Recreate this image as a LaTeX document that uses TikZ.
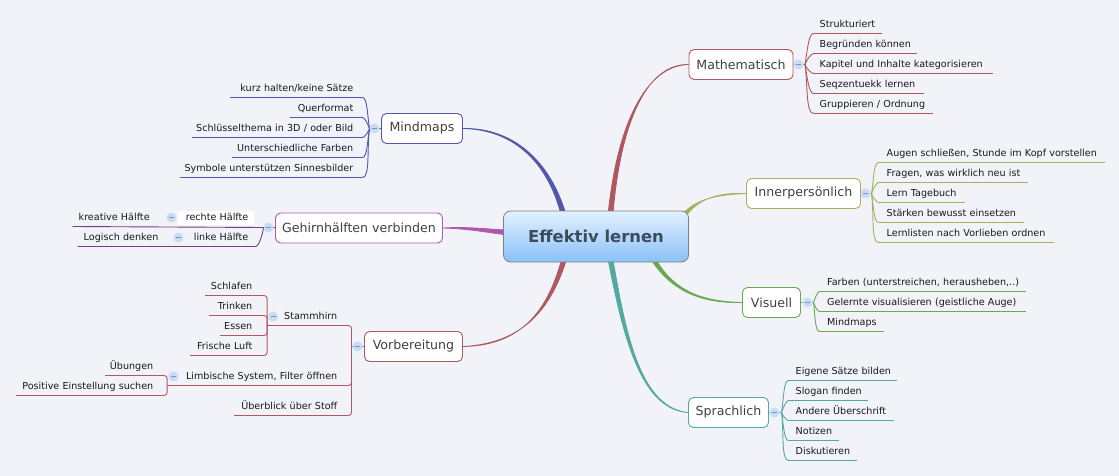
\documentclass[tikz,border=0pt]{standalone}
\usepackage{fontspec}
\setmainfont{DejaVu Sans}
\usetikzlibrary{backgrounds,positioning}
\definecolor{mapbg}{RGB}{242,243,248}
\definecolor{mapblue}{RGB}{82,88,170}
\definecolor{mapred}{RGB}{176,88,96}
\definecolor{mapolive}{RGB}{168,176,96}
\definecolor{mappurple}{RGB}{176,88,176}
\definecolor{mapgreen}{RGB}{104,170,84}
\definecolor{mapteal}{RGB}{84,170,160}
\definecolor{maptext}{RGB}{24,24,28}
\definecolor{foldblue}{RGB}{201,220,243}
\definecolor{foldminus}{RGB}{110,150,200}
\definecolor{centretop}{RGB}{226,241,255}
\definecolor{centrebottom}{RGB}{138,193,248}
\definecolor{centretext}{RGB}{62,76,90}
\tikzstyle{topicnode} = [rectangle, rounded corners=5pt, fill=white, line width=0.9pt, minimum height=30pt, inner sep=0pt, text=black!75, font=\fontsize{12.6}{15}\selectfont]
\tikzstyle{fold} = [circle, fill=foldblue, minimum size=10pt, inner sep=0pt, path picture={\draw[foldminus, line width=0.7pt] ([xshift=-2.5pt]path picture bounding box.center) -- ([xshift=2.5pt]path picture bounding box.center);}]
\tikzstyle{leafbase} = [inner xsep=0pt, inner ysep=3pt, text height=8pt, text depth=2.5pt, text=maptext, font=\fontsize{9.6}{12}\selectfont]
\tikzset{
  rleaf/.style={leafbase, anchor=south west, align=left, execute at begin node={\hspace*{#1}}},
  lleaf/.style={leafbase, anchor=south east, align=right, execute at end node={\hspace*{#1}}},
  twig/.style={line width=0.9pt, draw=#1}
}
% tapered main branch: colour, start, control, control, end
\newcommand{\limb}[5]{\filldraw[#1, line width=0.8pt] (#2) .. controls ([yshift=-1pt]#3) and ([xshift=-1.6pt]#4) .. ([xshift=-2.4pt]#5) -- ([xshift=2.4pt]#5) .. controls ([xshift=1.6pt]#4) and ([yshift=1pt]#3) .. (#2) -- cycle;}
% the same for a branch that ends nearly flat
\newcommand{\limbflat}[5]{\filldraw[#1, line width=0.8pt] (#2) .. controls ([yshift=-1pt]#3) and ([yshift=-1.6pt]#4) .. ([yshift=-2.4pt]#5) -- ([yshift=2.4pt]#5) .. controls ([yshift=1.6pt]#4) and ([yshift=1pt]#3) .. (#2) -- cycle;}
\begin{document}
\begin{tikzpicture}[x=1pt, y=-1pt, every to/.append style={in looseness=0.4}]
% Centre
\node[rectangle, rounded corners=7pt, draw=black!50, line width=0.8pt, top color=centretop, bottom color=centrebottom, minimum width=185pt, minimum height=51pt, inner sep=0pt, text=centretext, font=\fontsize{16.4}{20}\selectfont\bfseries] (central) at (595.5,236) {Effektiv lernen};

% Main topics
\node[topicnode, draw=mapblue, minimum width=81pt] (mindmaps) at (421.5,128) {Mindmaps};
\node[topicnode, draw=mappurple, minimum width=167pt] (gehirn) at (358.5,227.5) {Gehirnhälften verbinden};
\node[topicnode, draw=mapred, minimum width=98pt] (vorber) at (413,346) {Vorbereitung};
\node[topicnode, draw=mapred, minimum width=104pt] (mathe) at (740.5,64) {Mathematisch};
\node[topicnode, draw=mapolive, minimum width=114pt] (inner) at (803,193) {Innerpersönlich};
\node[topicnode, draw=mapgreen, minimum width=58pt] (visuell) at (771,302) {Visuell};
\node[topicnode, draw=mapteal, minimum width=80pt] (sprach) at (728,412) {Sprachlich};

% Hubs
\coordinate (mindhub) at (369,128);
\coordinate (gehhub) at (263,227);
\coordinate (vorhub) at (351,346);
\coordinate (mathub) at (804.5,64);
\coordinate (innhub) at (871,193);
\coordinate (vishub) at (813,302);
\coordinate (sprhub) at (781,412);

% Entry points on the centre
\coordinate (inmind) at (563,214);
\coordinate (ingeh) at (506,232);
\coordinate (invor) at (563.5,259);
\coordinate (inmat) at (610,214);
\coordinate (ininn) at (685,213);
\coordinate (invis) at (653,259);
\coordinate (inspr) at (610,259);

% Fold marks
\node[fold] (fmind) at (374,128) {};
\node[fold] (fgeh) at (268,227) {};
\node[fold] (fvor) at (357,346) {};
\node[fold] (fmat) at (798,64) {};
\node[fold] (finn) at (865,193) {};
\node[fold] (fvis) at (807,302) {};
\node[fold] (fspr) at (774,412) {};
\node[fold] (fstamm) at (272.5,316) {};
\node[fold] (flimb) at (173,376) {};

% Mindmaps
\node[lleaf=9pt, text width=132pt] (k1) at (362,97) {kurz halten/keine Sätze};
\node[lleaf=9pt, text width=72pt] (k2) at (362,117) {Querformat};
\node[lleaf=9pt, text width=170pt] (k3) at (362,137) {Schlüsselthema in 3D / oder Bild};
\node[lleaf=9pt, text width=130pt] (k4) at (362,157) {Unterschiedliche Farben};
\node[lleaf=9pt, text width=182pt] (k5) at (362,177) {Symbole unterstützen Sinnesbilder};
\draw[twig=mapblue] (mindhub) to[out=100,in=0] (k1.south east) -- (k1.south west);
\draw[twig=mapblue] (mindhub) to[out=110,in=0] (k2.south east) -- (k2.south west);
\draw[twig=mapblue] (mindhub) to[out=250,in=0] (k3.south east) -- (k3.south west);
\draw[twig=mapblue] (mindhub) to[out=260,in=0] (k4.south east) -- (k4.south west);
\draw[twig=mapblue] (mindhub) to[out=262,in=0] (k5.south east) -- (k5.south west);

% Gehirnhaelften
\node[lleaf=6pt, fill=white, inner ysep=2pt, text width=76pt] (g1) at (254,225) {rechte Hälfte};
\node[lleaf=7pt, text width=70pt] (g2) at (255,246) {linke Hälfte};
\node[rleaf=6pt, text width=90pt] (g1a) at (72,226) {kreative Hälfte};
\node[rleaf=6pt, text width=90pt] (g2a) at (77,246) {Logisch denken};
\node[fold] (fg1) at (171,217) {};
\node[fold] (fg2) at (178,237) {};
\draw[twig=mappurple!70!black] (gehhub) -- (g1a.south west);
\draw[twig=mappurple!70!black] (gehhub) to[out=262,in=0] (g2.south east) -- (g2a.south west);

% Vorbereitung
\node[lleaf=14pt, text width=84pt] (v1) at (351,325) {Stammhirn};
\node[lleaf=14pt, text width=184pt] (v2) at (351,385) {Limbische System, Filter öffnen};
\node[lleaf=14pt, text width=117pt] (v3) at (351,415) {Überblick über Stoff};
\node[lleaf=15pt, text width=62pt] (s1) at (267,295) {Schlafen};
\node[lleaf=15pt, text width=58pt] (s2) at (267,315) {Trinken};
\node[lleaf=15pt, text width=47pt] (s3) at (267,335) {Essen};
\node[lleaf=15pt, text width=77pt] (s4) at (267,355) {Frische Luft};
\node[lleaf=14pt, text width=62pt] (l1) at (167,375) {Übungen};
\node[lleaf=14pt, text width=151pt] (l2) at (167,395) {Positive Einstellung suchen};
\draw[twig=mapred, rounded corners=3pt] (vorhub) |- (v1.south west);
\draw[twig=mapred, rounded corners=3pt] (vorhub) |- (v2.south west);
\draw[twig=mapred, rounded corners=3pt] (vorhub) |- (v3.south west);
\draw[twig=mapred, rounded corners=3pt] (v1.south west) |- (s1.south west);
\draw[twig=mapred, rounded corners=3pt] (v1.south west) |- (s2.south west);
\draw[twig=mapred, rounded corners=3pt] (v1.south west) |- (s3.south west);
\draw[twig=mapred, rounded corners=3pt] (v1.south west) |- (s4.south west);
\draw[twig=mapred, rounded corners=3pt] (v2.south west) |- (l1.south west);
\draw[twig=mapred, rounded corners=3pt] (v2.south west) |- (l2.south west);

% Mathematisch
\node[rleaf=6pt, text width=68pt] (m1) at (813,33) {Strukturiert};
\node[rleaf=6pt, text width=103pt] (m2) at (813,53) {Begründen können};
\node[rleaf=6pt, text width=179pt] (m3) at (813,73) {Kapitel und Inhalte kategorisieren};
\node[rleaf=6pt, text width=110pt] (m4) at (813,93) {Seqzentuekk lernen};
\node[rleaf=6pt, text width=119pt] (m5) at (813,113) {Gruppieren / Ordnung};
\draw[twig=mapred] (mathub) to[out=80,in=180] (m1.south west) -- (m1.south east);
\draw[twig=mapred] (mathub) to[out=70,in=180] (m2.south west) -- (m2.south east);
\draw[twig=mapred] (mathub) to[out=290,in=180] (m3.south west) -- (m3.south east);
\draw[twig=mapred] (mathub) to[out=280,in=180] (m4.south west) -- (m4.south east);
\draw[twig=mapred] (mathub) to[out=278,in=180] (m5.south west) -- (m5.south east);

% Innerpersoenlich
\node[rleaf=8pt, text width=226pt] (i1) at (878,162) {Augen schließen, Stunde im Kopf vorstellen};
\node[rleaf=8pt, text width=149pt] (i2) at (878,182) {Fragen, was wirklich neu ist};
\node[rleaf=8pt, text width=86pt] (i3) at (878,202) {Lern Tagebuch};
\node[rleaf=8pt, text width=145pt] (i4) at (878,222) {Stärken bewusst einsetzen};
\node[rleaf=8pt, text width=175pt] (i5) at (878,242) {Lernlisten nach Vorlieben ordnen};
\draw[twig=mapolive] (innhub) to[out=80,in=180] (i1.south west) -- (i1.south east);
\draw[twig=mapolive] (innhub) to[out=70,in=180] (i2.south west) -- (i2.south east);
\draw[twig=mapolive] (innhub) to[out=290,in=180] (i3.south west) -- (i3.south east);
\draw[twig=mapolive] (innhub) to[out=280,in=180] (i4.south west) -- (i4.south east);
\draw[twig=mapolive] (innhub) to[out=278,in=180] (i5.south west) -- (i5.south east);

% Visuell
\node[rleaf=7.5pt, text width=206pt] (a1) at (819,291) {Farben (unterstreichen, herausheben,..)};
\node[rleaf=7.5pt, text width=206pt] (a2) at (819,311) {Gelernte visualisieren (geistliche Auge)};
\node[rleaf=7.5pt, text width=64pt] (a3) at (819,331) {Mindmaps};
\draw[twig=mapgreen] (vishub) to[out=70,in=180] (a1.south west) -- (a1.south east);
\draw[twig=mapgreen] (vishub) to[out=285,in=180] (a2.south west) -- (a2.south east);
\draw[twig=mapgreen] (vishub) to[out=278,in=180] (a3.south west) -- (a3.south east);

% Sprachlich
\node[rleaf=7pt, text width=108pt] (p1) at (788,380) {Eigene Sätze bilden};
\node[rleaf=7pt, text width=79pt] (p2) at (788,400) {Slogan finden};
\node[rleaf=7pt, text width=105pt] (p3) at (788,420) {Andere Überschrift};
\node[rleaf=7pt, text width=50pt] (p4) at (788,440) {Notizen};
\node[rleaf=7pt, text width=68pt] (p5) at (788,460) {Diskutieren};
\draw[twig=mapteal] (sprhub) to[out=80,in=180] (p1.south west) -- (p1.south east);
\draw[twig=mapteal] (sprhub) to[out=70,in=180] (p2.south west) -- (p2.south east);
\draw[twig=mapteal] (sprhub) to[out=290,in=180] (p3.south west) -- (p3.south east);
\draw[twig=mapteal] (sprhub) to[out=280,in=180] (p4.south west) -- (p4.south east);
\draw[twig=mapteal] (sprhub) to[out=278,in=180] (p5.south west) -- (p5.south east);

\begin{pgfonlayer}{background}
\fill[mapbg] (-0.5,-0.5) rectangle (1118.5,475.5);
% Branches
\limb{mapblue}{mindmaps.east}{512,128}{548,160}{inmind}
\limbflat{mappurple}{gehirn.east}{465,227}{485,230}{ingeh}
\limb{mapred}{vorber.east}{525,344}{550,305}{invor}
\limb{mapred}{mathe.west}{645,64}{618,125}{inmat}
\limb{mapolive}{inner.west}{718,193}{698,198}{ininn}
\limb{mapgreen}{visuell.west}{700,302}{672,290}{invis}
\limb{mapteal}{sprach.west}{640,408}{624,335}{inspr}
% Short stems
\draw[twig=mapblue] (mindhub) -- (mindmaps);
\draw[twig=mappurple!70!black] (gehhub) -- (gehirn);
\draw[twig=mapred] (vorhub) -- (vorber);
\draw[twig=mapred] (mathub) -- (mathe);
\draw[twig=mapolive] (innhub) -- (inner);
\draw[twig=mapgreen] (vishub) -- (visuell);
\draw[twig=mapteal] (sprhub) -- (sprach);
\end{pgfonlayer}
\end{tikzpicture}
\end{document}
